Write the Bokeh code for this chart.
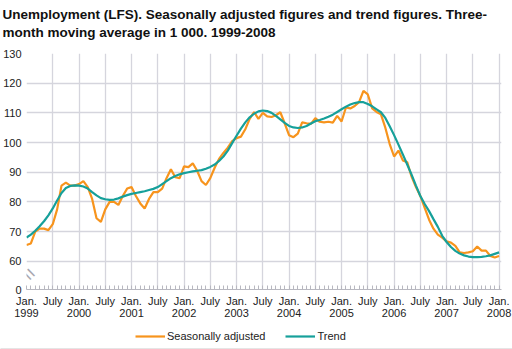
from bokeh.plotting import figure
from bokeh.layouts import column
from bokeh.models import (FixedTicker, Range1d, Legend, LegendItem, Label, LinearAxis)
from bokeh.embed import file_html
from bokeh.resources import INLINE

# ---- data (monthly, Jan 1999 .. Jan 2008), in 1 000 ----
months = list(range(109))  # months since Jan 1999

seasonally_adjusted = [
    65.5, 66, 70, 71, 71, 70.5, 72.5, 77.5, 85.5, 86.5, 85.5, 85.5,          # 1999
    86, 87, 85, 81, 74.5, 73.3, 77.5, 80, 80, 79, 82, 84.5,                  # 2000
    85, 82, 79.5, 77.8, 81, 83.3, 83.3, 84.5, 88, 91, 88.3, 88,              # 2001
    92, 91.7, 93, 90.5, 87, 85.7, 88, 91.5, 94.5, 96.5, 98.3, 100.5,         # 2002
    101.5, 102, 104.5, 108, 110.3, 108, 110, 108.8, 108.6, 109.2, 110.2, 106.5,  # 2003
    102.5, 101.8, 103, 106.8, 106.5, 106.3, 108.2, 107, 106.8, 107, 106.7, 109,  # 2004
    107.1, 111.8, 111.5, 112.3, 113.6, 117.4, 116.2, 111.5, 110.3, 109.5, 105, 99.5,  # 2005
    95.3, 97.3, 94, 93.4, 88.5, 85, 82, 78, 74, 71, 69, 68,                  # 2006
    66.7, 66.3, 65.2, 63, 62.8, 63, 63.4, 65, 63.6, 63.6, 61.8, 61.3,        # 2007
    61.8,                                                                    # 2008
]

trend = [
    68, 69, 70.3, 71.8, 73.5, 75.5, 77.8, 80.5, 83, 84.7, 85.4, 85.6,
    85.5, 85.2, 84.5, 83.3, 82.2, 81.3, 80.9, 80.7, 80.8, 81.2, 81.8, 82.3,
    82.7, 83, 83.3, 83.6, 84, 84.4, 85, 86, 87, 88, 88.7, 89.3,
    89.7, 90, 90.3, 90.5, 90.7, 91.2, 91.8, 92.6, 93.8, 95.3, 97.3, 99.8,
    102.3, 104.7, 106.8, 108.5, 109.7, 110.5, 110.8, 110.6, 110, 109, 107.8, 106.6,
    105.6, 105.1, 104.9, 105.1, 105.6, 106.4, 107.2, 107.6, 108.1, 108.7, 109.4, 110.3,
    111.2, 112.1, 112.8, 113.3, 113.6, 113.6, 113, 112.2, 111.2, 110.2, 108.3, 105.5,
    102.5, 99.3, 96, 92.6, 89.2, 85.5, 82, 79.3, 76.9, 74.2, 71.6, 68.6,
    66.5, 64.8, 63.5, 62.6, 62, 61.6, 61.4, 61.4, 61.5, 61.7, 62, 62.5,
    63,
]

x_major = list(range(0, 109, 6))
x_labels = {m: ("Jan.\n%d" % (1999 + m // 12)) if m % 12 == 0 else "July" for m in x_major}
y_ticks = [60, 70, 80, 90, 100, 110, 120, 130]
y_zero_pos = 50.5  # where the broken axis shows "0"

title_1 = "Unemployment (LFS). Seasonally adjusted figures and trend figures. Three-"
title_2 = "month moving average in 1 000. 1999-2008"
series_names = ["Seasonally adjusted", "Trend"]

ORANGE = "#f7941d"
TEAL = "#16a09a"
GRID = "#d5d5dd"
FONT = "Liberation Sans"
W = 512


def strip(height, rule_color, rule_width):
    # a plain strip whose data units are about pixels, with a rule along its bottom
    f = figure(width=W, height=height, output_backend="svg", toolbar_location=None,
               x_axis_location=None, y_axis_location=None, min_border=0,
               x_range=Range1d(0, W), y_range=Range1d(0, height))
    f.frame_align = False
    f.outline_line_color = None
    f.xgrid.visible = False
    f.ygrid.visible = False
    rule = LinearAxis(ticker=FixedTicker(ticks=[]), axis_line_color=rule_color,
                      axis_line_width=rule_width, major_tick_line_color=None,
                      minor_tick_line_color=None, major_tick_in=0, major_tick_out=0,
                      minor_tick_in=0, minor_tick_out=0, major_label_standoff=0,
                      major_label_text_font_size="0px")
    f.add_layout(rule, "below")
    return f


# ---------- title strip ----------
t = strip(47, "#9a9a9a", 1)
for txt, y in ((title_1, 33), (title_2, 15)):
    t.add_layout(Label(x=2, y=y, text=txt,
                       text_font=FONT, text_font_style="bold",
                       text_font_size="13.5px", text_color="#111111",
                       text_baseline="alphabetic", text_align="left"))

# ---------- main chart ----------
p = figure(width=W, height=275, output_backend="svg", toolbar_location=None,
           x_range=Range1d(0, 108.55), y_range=Range1d(y_zero_pos, 130),
           min_border_left=26, min_border_right=11, min_border_top=6, min_border_bottom=33)
p.frame_align = False
p.outline_line_color = None

xa = p.xaxis[0]
xa.ticker = FixedTicker(ticks=x_major, minor_ticks=months)
xa.major_label_overrides = x_labels
xa.major_tick_line_color = None
xa.major_tick_out = 0
xa.major_tick_in = 0
xa.minor_tick_in = 4
xa.minor_tick_out = 0
xa.minor_tick_line_color = "#b8b8c0"
xa.axis_line_color = "#b8b8c0"
xa.major_label_standoff = 5
xa.major_label_text_font = FONT
xa.major_label_text_font_size = "11px"
xa.major_label_text_color = "#222222"
xa.major_label_text_line_height = 1.0

ya = p.yaxis[0]
ya.ticker = FixedTicker(ticks=[y_zero_pos] + y_ticks)
ya.major_label_overrides = {y_zero_pos: "0"}
ya.axis_line_color = None
ya.major_tick_line_color = None
ya.minor_tick_line_color = None
ya.major_tick_out = 0
ya.major_label_standoff = 5
ya.major_label_text_font = FONT
ya.major_label_text_font_size = "11px"
ya.major_label_text_color = "#222222"

p.xgrid.ticker = FixedTicker(ticks=x_major)
p.ygrid.ticker = FixedTicker(ticks=y_ticks)
p.xgrid.grid_line_color = GRID
p.ygrid.grid_line_color = GRID
p.xgrid.grid_line_width = 1.3
p.ygrid.grid_line_width = 1.3

p.line(months, seasonally_adjusted, line_color=ORANGE, line_width=2.2)
p.line(months, trend, line_color=TEAL, line_width=2.2)

# axis break mark
p.add_layout(Label(x=0, y=55.7, text="=", text_font=FONT, text_font_size="20px",
                   text_color="#a8a8b0", angle=-0.8, text_align="center",
                   text_baseline="middle", x_offset=3))

# ---------- legend strip ----------
b = strip(27, "#cccccc", 2)
# legend keys: the same series, lying outside this strip's visible range
k_sa = b.line(months, seasonally_adjusted, line_color=ORANGE, line_width=2.2)
k_tr = b.line(months, trend, line_color=TEAL, line_width=2.2)
legend = Legend(items=[LegendItem(label=series_names[0], renderers=[k_sa]),
                       LegendItem(label=series_names[1], renderers=[k_tr])],
                orientation="horizontal", location=(135, 3),
                glyph_width=30, glyph_height=20, label_standoff=2, spacing=20,
                padding=0, margin=0, border_line_color=None, background_fill_alpha=0,
                label_text_font=FONT, label_text_font_size="11px",
                label_text_color="#222222")
b.add_layout(legend, "center")

layout = column(t, p, b, spacing=0)
open("out.html", "w").write(file_html(layout, INLINE))
